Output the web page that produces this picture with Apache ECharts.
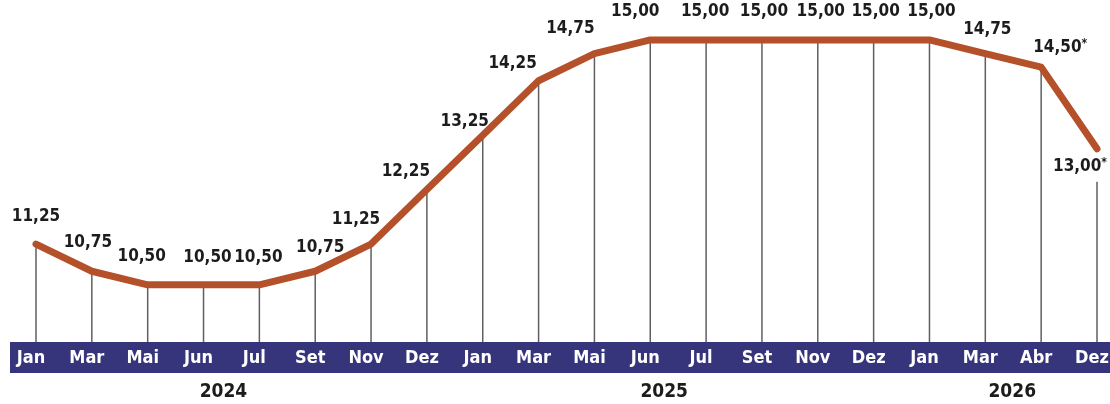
<!DOCTYPE html>
<html>
<head>
<meta charset="utf-8">
<title>Selic</title>
<script src="https://cdn.jsdelivr.net/npm/echarts@6/dist/echarts.min.js"></script>
<style>
  html, body { margin: 0; padding: 0; background: #fff; }
  #chart { width: 1110px; height: 404px; }
</style>
</head>
<body>
<div id="chart"></div>
<script>
// dados
const months = ['Jan', 'Mar', 'Mai', 'Jun', 'Jul', 'Set', 'Nov', 'Dez',
                'Jan', 'Mar', 'Mai', 'Jun', 'Jul', 'Set', 'Nov', 'Dez',
                'Jan', 'Mar', 'Abr', 'Dez']
const monthYear = ['2024', '2024', '2024', '2024', '2024', '2024', '2024', '2024',
                   '2025', '2025', '2025', '2025', '2025', '2025', '2025', '2025',
                   '2026', '2026', '2026', '2026']
const selic = [11.25, 10.75, 10.50, 10.50, 10.50, 10.75, 11.25, 12.25,
               13.25, 14.25, 14.75, 15.00, 15.00, 15.00, 15.00, 15.00,
               15.00, 14.75, 14.50, 13.00]
const projected = [false, false, false, false, false, false, false, false,
                   false, false, false, false, false, false, false, false,
                   false, false, true, true]
const years = ['2024', '2025', '2026']

const FONT = '"DejaVu Sans Condensed", "DejaVu Sans", sans-serif'
const LINE_COLOR = '#b5512a'
const BAND_COLOR = '#36347b'

// deslocamento dos rótulos (estilo)
const labelShift = [
  [0, -12], [-4, -14], [-6, -13], [4, -12], [-1, -12], [5, -9], [-15, -9], [-21, -3],
  [-18, 1], [-26, -2], [-24, -10], [-15, -13], [-1, -13], [2, -13], [3, -13], [2, -13],
  [2, -13], [2, -9], [19, -5], [-17, 38]
]
const yearShift = [-8, -14, -1]

const fmt = (v) => v.toFixed(2).replace('.', ',')

const chart = echarts.init(document.getElementById('chart'))

const stemData = selic.map((v, i) => {
  const isLast = i === selic.length - 1
  return {
    value: v,
    label: {
      offset: labelShift[i],
      backgroundColor: isLast ? '#fff' : 'transparent',
      lineHeight: isLast ? 30 : 20
    }
  }
})

chart.setOption({
  animation: false,
  grid: { left: 36, right: 13, top: 10, bottom: 62, outerBoundsMode: 'none', containLabel: false },
  xAxis: {
    type: 'category',
    data: months,
    boundaryGap: false,
    axisLine: { show: false },
    axisTick: { show: false },
    axisLabel: {
      interval: 0,
      margin: 7,
      padding: [0, 10, 0, 0],
      color: '#fff',
      fontFamily: FONT,
      fontWeight: 'bold',
      fontSize: 18
    }
  },
  yAxis: {
    type: 'value',
    min: 9.45,
    max: 15.55,
    show: false
  },
  series: [
    {
      type: 'bar',
      data: stemData,
      barWidth: 1.5,
      itemStyle: { color: '#5f5f5f' },
      z: 1,
      label: {
        show: true,
        position: 'top',
        distance: 5,
        formatter: (p) => projected[p.dataIndex]
          ? '{v|' + fmt(p.value) + '}{s|*}'
          : '{v|' + fmt(p.value) + '}',
        rich: {
          v: { fontFamily: FONT, fontWeight: 'bold', fontSize: 17, color: '#1c1c1c' },
          s: { fontFamily: FONT, fontWeight: 'bold', fontSize: 12, color: '#1c1c1c', padding: [0, 0, 7, 0] }
        }
      }
    },
    {
      type: 'line',
      data: selic,
      symbol: 'none',
      z: 3,
      lineStyle: { color: LINE_COLOR, width: 7, cap: 'round', join: 'round' }
    }
  ]
})

// faixa dos meses e anos
const xOf = (i) => chart.convertToPixel({ xAxisIndex: 0 }, i)
const graphics = [
  {
    type: 'rect',
    z: -1,
    shape: { x: 10, y: 342, width: 1100, height: 31 },
    style: { fill: BAND_COLOR }
  }
]
years.forEach((y, k) => {
  const first = monthYear.indexOf(y)
  const last = monthYear.lastIndexOf(y)
  graphics.push({
    type: 'text',
    x: (xOf(first) + xOf(last)) / 2 + yearShift[k],
    y: 392,
    style: {
      text: y,
      fill: '#1c1c1c',
      font: 'bold 19px ' + FONT,
      align: 'center',
      verticalAlign: 'middle'
    }
  })
})
chart.setOption({ graphic: graphics })
</script>
</body>
</html>
